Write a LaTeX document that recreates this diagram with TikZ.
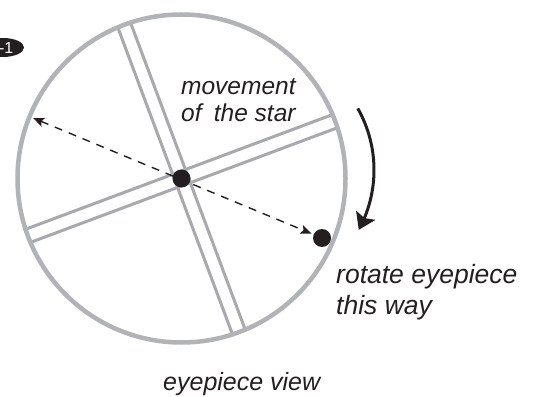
\documentclass[tikz,border=0pt]{standalone}
\usepackage{fontspec}
\setmainfont{Liberation Sans}
\usetikzlibrary{arrows.meta,calc,shapes.geometric,bending}
\definecolor{ink}{HTML}{231F20}
\definecolor{ringgray}{HTML}{B1B3B6}
\definecolor{hairgray}{HTML}{A7A9AC}
\tikzset{
  ring/.style={draw=ringgray, line width=4.5pt},
  hair/.style={draw=hairgray, line width=3pt},
  stardot/.style={circle, fill=ink, minimum size=18pt, inner sep=0pt},
  label/.style={font=\itshape\fontsize{24.5}{29}\selectfont, text=ink, anchor=base west, inner sep=0pt},
  movearrow/.style={draw=ink, line width=1.4pt, dash pattern=on 8pt off 7pt, {Stealth[length=11pt,width=9pt,inset=2pt]}-{Stealth[length=11pt,width=9pt,inset=2pt]}},
  rotarrow/.style={draw=ink, line width=3pt, -{Stealth[length=16pt,width=21pt,inset=3pt,flex]}}
}
\begin{document}
\begin{tikzpicture}[x=1pt,y=1pt]
\useasboundingbox (0,0) rectangle (534,396);
\coordinate (C) at (181.5,217.5);
% crosshair
\begin{scope}
\clip (C) circle (164pt);
\draw[hair] (117.87,407.28) -- (257.87,32.48);
\draw[hair] (105.13,402.52) -- (245.13,27.72);
\draw[hair] (-3.45,140.94) -- (371.35,280.94);
\draw[hair] (-8.35,154.06) -- (366.45,294.06);
\end{scope}
\draw[ring] (C) circle (164pt);
% stars
\node[stardot] (s2) at (322,158) {};
\coordinate (L) at (33,278);
\draw[movearrow, shorten >=2pt] (L) -- (s2);
\node[stardot] (s1) at (C) {};
% rotation arrow
\coordinate (R) at (249,226);
\coordinate (aS) at ($(R)+(29.5:125pt)$);
\draw[rotarrow] (aS) arc[start angle=29.5, end angle=-28.6, radius=125pt];
% labels
\node[label] (t1) at (181,301) {movement};
\node[label] (t2) at (181,274.3) {of\hspace{0.5em}the star};
\node[label, font=\itshape\fontsize{26.5}{31}\selectfont] (t3) at (336,113) {rotate eyepiece};
\node[label, font=\itshape\fontsize{26.5}{31}\selectfont] (t4) at (336,82) {this way};
\node[label, font=\itshape\fontsize{25}{30}\selectfont] (t5) at (163,6) {eyepiece view};
% badge
\node[ellipse, fill=ink, minimum width=42pt, minimum height=19pt, inner sep=0pt] (badge) at (3,348.5) {};
\node[anchor=base east, text=white, font=\fontsize{16}{19}\selectfont, inner sep=0pt] (bt) at (13.5,342.7) {-1};
\end{tikzpicture}
\end{document}
